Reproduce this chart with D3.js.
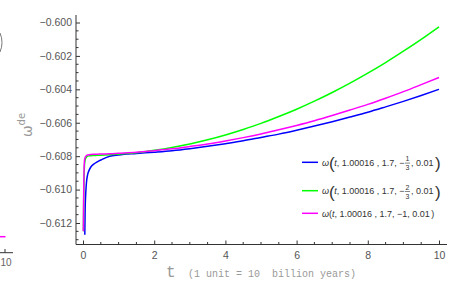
<!DOCTYPE html>
<html><head><meta charset="utf-8">
<script src="https://cdn.jsdelivr.net/npm/d3@7"></script>
<style>body{margin:0;background:#fff}svg{display:block}</style>
</head><body>
<svg id="c" width="465" height="283"></svg>
<script>
// ---- data ----
const tVals = [0.01,0.02,0.03,0.04,0.05,0.06,0.08,0.1,0.13,0.17,0.22,0.3,0.4,0.5,0.75,1,1.5,2,2.5,3,3.5,4,4.5,5,5.5,6,6.5,7,7.5,8,8.5,9,9.5,10];
const blueVals = [null,null,null,null,-0.6127,-0.6112,-0.6101,-0.6095,-0.6091,-0.60885,-0.60865,-0.60848,-0.60834,-0.60823,-0.608,-0.60793,-0.60784,-0.60776,-0.60767,-0.60755,-0.60741,-0.60725,-0.60708,-0.60688,-0.60668,-0.60645,-0.6062,-0.60594,-0.60566,-0.60537,-0.60505,-0.60472,-0.60437,-0.604];
const greenVals = [-0.6125,-0.6104,-0.6092,-0.6086,-0.60835,-0.60822,-0.6081,-0.60804,-0.608,-0.60798,-0.60797,-0.60796,-0.60795,-0.60794,-0.60792,-0.60788,-0.60779,-0.60765,-0.60748,-0.60727,-0.60702,-0.60673,-0.6064,-0.60604,-0.60563,-0.60519,-0.60471,-0.60419,-0.60363,-0.60303,-0.6024,-0.60172,-0.60101,-0.60026];
const magentaVals = [-0.6125,-0.61,-0.6088,-0.6083,-0.60815,-0.60808,-0.608,-0.60796,-0.60793,-0.60791,-0.6079,-0.60789,-0.60788,-0.60787,-0.60786,-0.60783,-0.60777,-0.60767,-0.60756,-0.60742,-0.60727,-0.60709,-0.60689,-0.60667,-0.60642,-0.60616,-0.60588,-0.60557,-0.60524,-0.6049,-0.60453,-0.60414,-0.60372,-0.60329];
const xTicks = [0,2,4,6,8,10];
const yTicks = [-0.600,-0.602,-0.604,-0.606,-0.608,-0.610,-0.612];
const seriesNames = ["blue","green","magenta"];
const legendFrac = [["1","3"],["2","3"],null];

const svg = d3.select("#c");
const x = d3.scaleLinear().domain([-0.197, 10.225]).range([76, 447]);
const y = d3.scaleLinear().domain([-0.613287, -0.599551]).range([244.5, 15]);
const colors = {blue:"#0000ff", green:"#00ff00", magenta:"#ff00ff"};
const data = {blue:blueVals, green:greenVals, magenta:magentaVals};

// neighbour chart remnants at left edge
svg.append("path").attr("d","M0,33 Q4,42.5 0,52").attr("fill","none").attr("stroke","#777").attr("stroke-width",1);
svg.append("line").attr("x1",0).attr("x2",5.5).attr("y1",236.7).attr("y2",236.7).attr("stroke","#ff00ff").attr("stroke-width",1.5);
svg.append("line").attr("x1",0).attr("x2",13).attr("y1",252.7).attr("y2",252.7).attr("stroke","#333").attr("stroke-width",1);
svg.append("line").attr("x1",5).attr("x2",5).attr("y1",249).attr("y2",252.7).attr("stroke","#333").attr("stroke-width",1);
svg.append("text").attr("x",6).attr("y",266).attr("text-anchor","middle").attr("font-family","Liberation Sans, Arial").attr("font-size",10).attr("fill","#666").text("10");

// axes
const axisCol = "#333";
const xMinor = d3.range(0, 10.01, 0.5).filter(v => !xTicks.includes(v));
const yMinor = d3.range(-0.6130, -0.59949, 0.0005).map(v=>+v.toFixed(4)).filter(v => !yTicks.some(t=>Math.abs(t-v)<1e-6) && y(v)>=15 && y(v)<=244.5);

const xa = d3.axisBottom(x).tickValues(xTicks).tickSize(-4).tickPadding(8).tickFormat(d3.format("d"));
const gx = svg.append("g").attr("transform","translate(0,244.5)").call(xa);
gx.select(".domain").attr("d","M76,0H447").attr("stroke",axisCol);
const ya = d3.axisLeft(y).tickValues(yTicks).tickSize(-4).tickPadding(4).tickFormat(d => d3.format(".3f")(d).replace("-","−"));
const gy = svg.append("g").attr("transform","translate(76,0)").call(ya);
gy.select(".domain").attr("d","M0,15V244.5").attr("stroke",axisCol);
[gx,gy].forEach(g=>{
  g.selectAll(".tick line").attr("stroke",axisCol);
  g.selectAll(".tick text").attr("fill","#555").attr("font-family","Liberation Sans, Arial").attr("font-size",10.5);
});
gx.selectAll(".tick text").attr("dy","0").attr("y",258.5-244.5);
svg.append("g").selectAll("line").data(xMinor).join("line")
  .attr("x1",d=>x(d)).attr("x2",d=>x(d)).attr("y1",244.5).attr("y2",242).attr("stroke",axisCol);
svg.append("g").selectAll("line").data(yMinor).join("line")
  .attr("x1",76).attr("x2",78.5).attr("y1",d=>y(d)).attr("y2",d=>y(d)).attr("stroke",axisCol);

// curves
const line = d3.line().defined(d=>d!==null).x((d,i)=>x(tVals[i])).y(d=>y(d)).curve(d3.curveMonotoneX);
["blue","green","magenta"].forEach(s=>{
  svg.append("path").attr("d",line(data[s])).attr("fill","none").attr("stroke",colors[s]).attr("stroke-width",1.5);
});

// axis labels
const yl = svg.append("text").attr("transform","translate(32,125) rotate(-90)").attr("text-anchor","middle")
  .attr("font-family","DejaVu Sans, Arial").attr("fill","#999");
yl.append("tspan").attr("font-size",14).text("ω");
yl.append("tspan").attr("font-size",10).attr("dy",-7).text("de");

svg.append("text").attr("x",166).attr("y",277).attr("font-family","Liberation Mono, Courier New, monospace").attr("font-size",16).attr("fill","#999").text("t");
svg.append("text").attr("x",188).attr("y",276.5).attr("font-family","Liberation Mono, Courier New, monospace").attr("font-size",10).attr("fill","#999").style("white-space","pre").text("(1 unit = 10  billion years)");

// legend
const rowY = [162.3, 190.7, 213.3];
const lf = "Liberation Sans, Arial";
const fs = 9;
seriesNames.forEach((s,i)=>{
  const cy = rowY[i];
  const g = svg.append("g");
  g.append("line").attr("x1",302).attr("x2",318).attr("y1",cy).attr("y2",cy).attr("stroke",colors[s]).attr("stroke-width",1.5);
  let cx = 322;
  const base = cy + 3.2;
  function put(str, size, yy, opts){
    const t = g.append("text").attr("x",cx).attr("y",yy).attr("font-family",lf).attr("font-size",size).attr("fill","#333").style("white-space","pre").text(str);
    if(opts&&opts.italic) t.attr("font-style","italic");
    cx += t.node().getComputedTextLength();
    return t;
  }
  put("ω",fs,base,{italic:true});
  const frac = legendFrac[i];
  if(frac){
    put("(",17,base+3.8,{}); cx -= 0.5;
    put("t",fs,base,{italic:true});
    put(", 1.00016 , 1.7, −",fs,base);
    const fx = cx + 3;
    g.append("text").attr("x",fx).attr("y",cy-1).attr("text-anchor","middle").attr("font-family",lf).attr("font-size",7).attr("fill","#333").text(frac[0]);
    g.append("line").attr("x1",fx-2.5).attr("x2",fx+2.5).attr("y1",cy+0.8).attr("y2",cy+0.8).attr("stroke","#333").attr("stroke-width",0.6);
    g.append("text").attr("x",fx).attr("y",cy+8).attr("text-anchor","middle").attr("font-family",lf).attr("font-size",7).attr("fill","#333").text(frac[1]);
    cx += 6.5;
    put(", 0.01",fs,base);
    cx += 1.5;
    put(")",17,base+3.8,{});
  } else {
    put("(",fs,base);
    put("t",fs,base,{italic:true});
    put(", 1.00016 , 1.7, −1, 0.01",fs,base);
    cx += 1.5;
    put(")",fs,base);
  }
});
</script>
</body></html>
